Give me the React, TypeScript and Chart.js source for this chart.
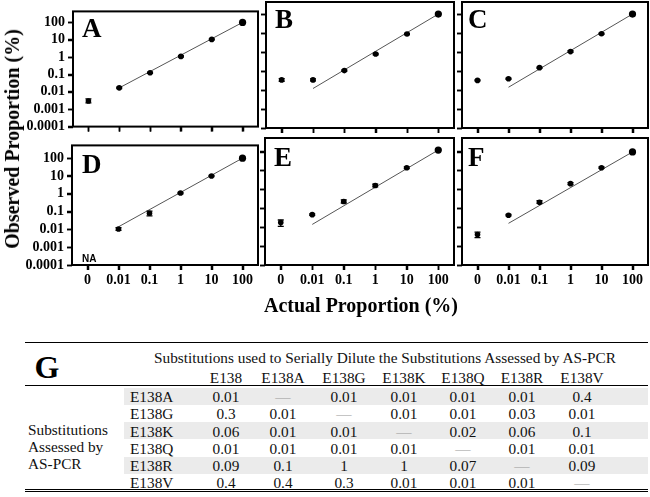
import React, { useEffect, useRef } from 'react';
import { Chart, registerables } from 'chart.js';
Chart.register(...registerables);

// ---------- data ----------
const xCategories = ['0', '0.01', '0.1', '1', '10', '100'];
const yTickValues = [0.0001, 0.001, 0.01, 0.1, 1, 10, 100];
const yTickLabels = ['0.0001', '0.001', '0.01', '0.1', '1', '10', '100'];

const obsA = [0.003, 0.017, 0.125, 1.1, 10.5, 100];
const loA = [0.0023, 0.0155, 0.115, 1.0, 9.8, 96];
const hiA = [0.0039, 0.0185, 0.135, 1.2, 11.2, 104];
const fitA = [0.017, 100];

const obsB = [0.034, 0.034, 0.105, 0.78, 8.9, 100];
const loB = [0.029, 0.03, 0.097, 0.72, 8.3, 96];
const hiB = [0.04, 0.039, 0.113, 0.85, 9.6, 104];
const fitB = [0.012, 100];

const obsC = [0.032, 0.039, 0.15, 1.05, 9.2, 100];
const loC = [0.03, 0.036, 0.14, 0.95, 8.4, 96];
const hiC = [0.034, 0.042, 0.16, 1.17, 10.0, 104];
const fitC = [0.014, 100];

const obsD = [null, 0.0105, 0.08, 1.1, 10, 100];
const loD = [null, 0.0088, 0.058, 1.0, 9.3, 96];
const hiD = [null, 0.0125, 0.105, 1.2, 10.8, 104];
const fitD = [0.014, 100];

const obsE = [0.0177, 0.046, 0.23, 1.6, 14, 120];
const loE = [0.011, 0.042, 0.19, 1.35, 12.5, 114];
const hiE = [0.024, 0.05, 0.28, 1.9, 15.5, 126];
const fitE = [0.014, 120];

const obsF = [0.0041, 0.043, 0.21, 2.0, 14, 95];
const loF = [0.0028, 0.04, 0.18, 1.8, 13, 91];
const hiF = [0.0055, 0.047, 0.25, 2.25, 15.5, 99];
const fitF = [0.016, 95];

const tableTitle = 'Substitutions used to Serially Dilute the Substitutions Assessed by AS-PCR';
const colLabels = ['E138', 'E138A', 'E138G', 'E138K', 'E138Q', 'E138R', 'E138V'];
const rowLabels = ['E138A', 'E138G', 'E138K', 'E138Q', 'E138R', 'E138V'];
const rowE138A = ['0.01', '—', '0.01', '0.01', '0.01', '0.01', '0.4'];
const rowE138G = ['0.3', '0.01', '—', '0.01', '0.01', '0.03', '0.01'];
const rowE138K = ['0.06', '0.01', '0.01', '—', '0.02', '0.06', '0.1'];
const rowE138Q = ['0.01', '0.01', '0.01', '0.01', '—', '0.01', '0.01'];
const rowE138R = ['0.09', '0.1', '1', '1', '0.07', '—', '0.09'];
const rowE138V = ['0.4', '0.4', '0.3', '0.01', '0.01', '0.01', '—'];
const tableRows = [rowE138A, rowE138G, rowE138K, rowE138Q, rowE138R, rowE138V];
const groupLabel = ['Substitutions', 'Assessed by', 'AS-PCR'];

// ---------- layout ----------
const SERIF = '"Liberation Serif", "Times New Roman", serif';

type PanelCfg = {
  letter: string; obs: (number | null)[]; lo: (number | null)[]; hi: (number | null)[]; fit: number[];
  left: number; top: number; width: number; height: number;
  yAxisWidth: number; padRight: number; padTop: number; xAxisHeight: number;
  showY: boolean; showX: boolean; yMax: number; letterDx: number; letterDy: number; na?: boolean;
};

const topRow = { top: 0, height: 138, padTop: 2, xAxisHeight: 10, showX: false, yMax: 430, letterDy: 26 };
const botRow = { top: 134, height: 160, padTop: 4, xAxisHeight: 29, showX: true, yMax: 520, letterDy: 28 };

const panels: PanelCfg[] = [
  { ...topRow, letter: 'A', obs: obsA, lo: loA, hi: hiA, fit: fitA, left: 0, width: 262, yAxisWidth: 73, padRight: 4, showY: true, letterDx: 9 },
  { ...topRow, letter: 'B', obs: obsB, lo: loB, hi: hiB, fit: fitB, left: 258, width: 200, yAxisWidth: 8, padRight: 4, showY: false, letterDx: 9 },
  { ...topRow, letter: 'C', obs: obsC, lo: loC, hi: hiC, fit: fitC, left: 454, width: 196, yAxisWidth: 8, padRight: 2, showY: false, letterDx: 6 },
  { ...botRow, letter: 'D', obs: obsD, lo: loD, hi: hiD, fit: fitD, left: 0, width: 262, yAxisWidth: 72, padRight: 4, showY: true, letterDx: 10, na: true },
  { ...botRow, letter: 'E', obs: obsE, lo: loE, hi: hiE, fit: fitE, left: 258, width: 200, yAxisWidth: 7, padRight: 4, showY: false, letterDx: 9 },
  { ...botRow, letter: 'F', obs: obsF, lo: loF, hi: hiF, fit: fitF, left: 454, width: 196, yAxisWidth: 8, padRight: 2, showY: false, letterDx: 6 },
];

function Panel({ cfg }: { cfg: PanelCfg }) {
  const ref = useRef<HTMLCanvasElement>(null);
  useEffect(() => {
    const canvas = ref.current!;
    const points = cfg.obs
      .map((v, i) => (v == null ? null : { x: i, y: v }))
      .filter((p) => p !== null);
    const decor = {
      id: 'decor' + cfg.letter,
      afterDatasetsDraw(chart: any) {
        const { ctx, scales } = chart;
        ctx.save();
        ctx.strokeStyle = '#000';
        ctx.lineWidth = 1.3;
        cfg.obs.forEach((v, i) => {
          const lo = cfg.lo[i];
          const hi = cfg.hi[i];
          if (v == null || lo == null || hi == null) return;
          const x = scales.x.getPixelForValue(i);
          const y1 = scales.y.getPixelForValue(lo);
          const y2 = scales.y.getPixelForValue(hi);
          ctx.beginPath();
          ctx.moveTo(x, y1); ctx.lineTo(x, y2);
          ctx.moveTo(x - 3, y1); ctx.lineTo(x + 3, y1);
          ctx.moveTo(x - 3, y2); ctx.lineTo(x + 3, y2);
          ctx.stroke();
        });
        ctx.restore();
      },
      afterDraw(chart: any) {
        const { ctx, chartArea, scales } = chart;
        ctx.save();
        ctx.strokeStyle = '#000';
        ctx.lineWidth = 1.5;
        ctx.beginPath();
        yTickValues.forEach((v) => {
          const y = Math.round(scales.y.getPixelForValue(v)) + 0.5;
          ctx.moveTo(chartArea.left - 5, y); ctx.lineTo(chartArea.left, y);
        });
        xCategories.forEach((_c, i) => {
          const x = Math.round(scales.x.getPixelForValue(i)) + 0.5;
          ctx.moveTo(x, chartArea.bottom); ctx.lineTo(x, chartArea.bottom + 5);
        });
        ctx.stroke();
        ctx.lineWidth = 2;
        ctx.strokeRect(chartArea.left, chartArea.top, chartArea.right - chartArea.left, chartArea.bottom - chartArea.top);
        ctx.fillStyle = '#000';
        ctx.font = 'bold 27px ' + SERIF;
        ctx.textBaseline = 'alphabetic';
        ctx.textAlign = 'left';
        ctx.fillText(cfg.letter, chartArea.left + cfg.letterDx, chartArea.top + cfg.letterDy);
        if (cfg.na) {
          ctx.font = 'bold 10px "Liberation Sans", Arial, sans-serif';
          ctx.fillText('NA', chartArea.left + 10, chartArea.bottom - 3);
        }
        ctx.restore();
      },
    };
    const chart = new Chart(canvas, {
      type: 'scatter',
      data: {
        datasets: [
          {
            type: 'line',
            data: [{ x: 1, y: cfg.fit[0] }, { x: 5, y: cfg.fit[1] }],
            borderColor: '#555',
            borderWidth: 1,
            pointRadius: 0,
            order: 2,
          } as any,
          {
            type: 'scatter',
            data: points as any,
            backgroundColor: '#000',
            borderColor: '#000',
            borderWidth: 0,
            pointRadius: (c: any) => (c.raw && c.raw.x === 5 ? 3.6 : 2.8),
            order: 1,
          } as any,
        ],
      },
      options: {
        animation: false,
        responsive: false,
        maintainAspectRatio: false,
        devicePixelRatio: 1,
        layout: { autoPadding: false, padding: { left: 0, right: cfg.padRight, top: cfg.padTop, bottom: 0 } },
        plugins: { legend: { display: false }, tooltip: { enabled: false } },
        scales: {
          x: {
            type: 'linear',
            min: -0.5,
            max: 5.5,
            afterBuildTicks: (s: any) => { s.ticks = xCategories.map((_, i) => ({ value: i })); },
            afterFit: (s: any) => { s.height = cfg.xAxisHeight; },
            ticks: {
              display: cfg.showX,
              autoSkip: false,
              maxRotation: 0,
              padding: 2,
              color: '#000',
              font: { family: SERIF, size: 14, weight: 'bold' },
              callback: (_v: any, i: number) => xCategories[i],
            },
            grid: { drawOnChartArea: false, drawTicks: true, tickLength: 5, tickWidth: 1.5, tickColor: '#000' },
            border: { display: false },
          },
          y: {
            type: 'logarithmic',
            min: 0.0001,
            max: cfg.yMax,
            afterBuildTicks: (s: any) => { s.ticks = yTickValues.map((v) => ({ value: v })); },
            afterFit: (s: any) => { s.width = cfg.yAxisWidth; },
            ticks: {
              display: cfg.showY,
              autoSkip: false,
              padding: 3,
              color: '#000',
              font: { family: SERIF, size: 14, weight: 'bold' },
              callback: (_v: any, i: number) => yTickLabels[i],
            },
            grid: { drawOnChartArea: false, drawTicks: true, tickLength: 5, tickWidth: 1.5, tickColor: '#000' },
            border: { display: false },
          },
        },
      } as any,
      plugins: [decor],
    });
    return () => chart.destroy();
  }, []);
  return (
    <canvas
      ref={ref}
      width={cfg.width}
      height={cfg.height}
      style={{ position: 'absolute', left: cfg.left, top: cfg.top, width: cfg.width, height: cfg.height }}
    />
  );
}

const colX = [226, 283, 344, 404, 463, 522, 582];
const rowY = [396, 413, 430.5, 448, 465, 482];

function abs(x: number, y: number, extra: React.CSSProperties = {}): React.CSSProperties {
  return { position: 'absolute', left: x, top: y, whiteSpace: 'nowrap', ...extra };
}

export default function App() {
  return (
    <div style={{ position: 'absolute', left: 0, top: 0, width: 650, height: 497, background: '#fff', overflow: 'hidden', fontFamily: SERIF }}>
      {panels.map((p) => <Panel key={p.letter} cfg={p} />)}
      <div style={abs(12, 139, { transform: 'translate(-50%, -50%) rotate(-90deg)', fontWeight: 'bold', fontSize: 20, lineHeight: '22px' })}>
        Observed Proportion (%)
      </div>
      <div style={abs(361, 305, { transform: 'translate(-50%, -50%)', fontWeight: 'bold', fontSize: 20, lineHeight: '22px' })}>
        Actual Proportion (%)
      </div>
      <div style={abs(25, 342, { width: 623, borderTop: '1.5px solid #000' })} />
      <div style={abs(25, 385, { width: 623, borderTop: '1px solid #000' })} />
      <div style={abs(25, 489, { width: 623, borderTop: '3px double #000' })} />
      {rowY.map((y, i) => (i % 2 === 0 ? (
        <div key={'band' + i} style={abs(124, y - 8.5, { width: 524, height: 17, background: '#ebebeb' })} />
      ) : null))}
      <div style={abs(47, 367, { transform: 'translate(-50%, -50%)', fontWeight: 'bold', fontSize: 32, lineHeight: '34px' })}>G</div>
      <div style={abs(385, 357, { transform: 'translate(-50%, -50%)', fontSize: 15.3, lineHeight: '17px', color: '#111' })}>{tableTitle}</div>
      {colLabels.map((c, j) => (
        <div key={'c' + j} style={abs(colX[j], 377, { transform: 'translate(-50%, -50%)', fontSize: 15.3, lineHeight: '17px', color: '#111' })}>{c}</div>
      ))}
      {rowLabels.map((r, i) => (
        <div key={'r' + i} style={abs(130, rowY[i], { transform: 'translateY(-50%)', fontSize: 15.3, lineHeight: '17px', color: '#111' })}>{r}</div>
      ))}
      {tableRows.map((row, i) => row.map((v, j) => (
        <div key={'v' + i + '-' + j} style={abs(colX[j], rowY[i], { transform: 'translate(-50%, -50%)', fontSize: 15.3, lineHeight: '17px', color: v === '—' ? '#999' : '#111' })}>{v}</div>
      )))}
      {groupLabel.map((g, i) => (
        <div key={'g' + i} style={abs(28, 429 + i * 17, { transform: 'translateY(-50%)', fontSize: 15.3, lineHeight: '17px', color: '#111' })}>{g}</div>
      ))}
    </div>
  );
}
